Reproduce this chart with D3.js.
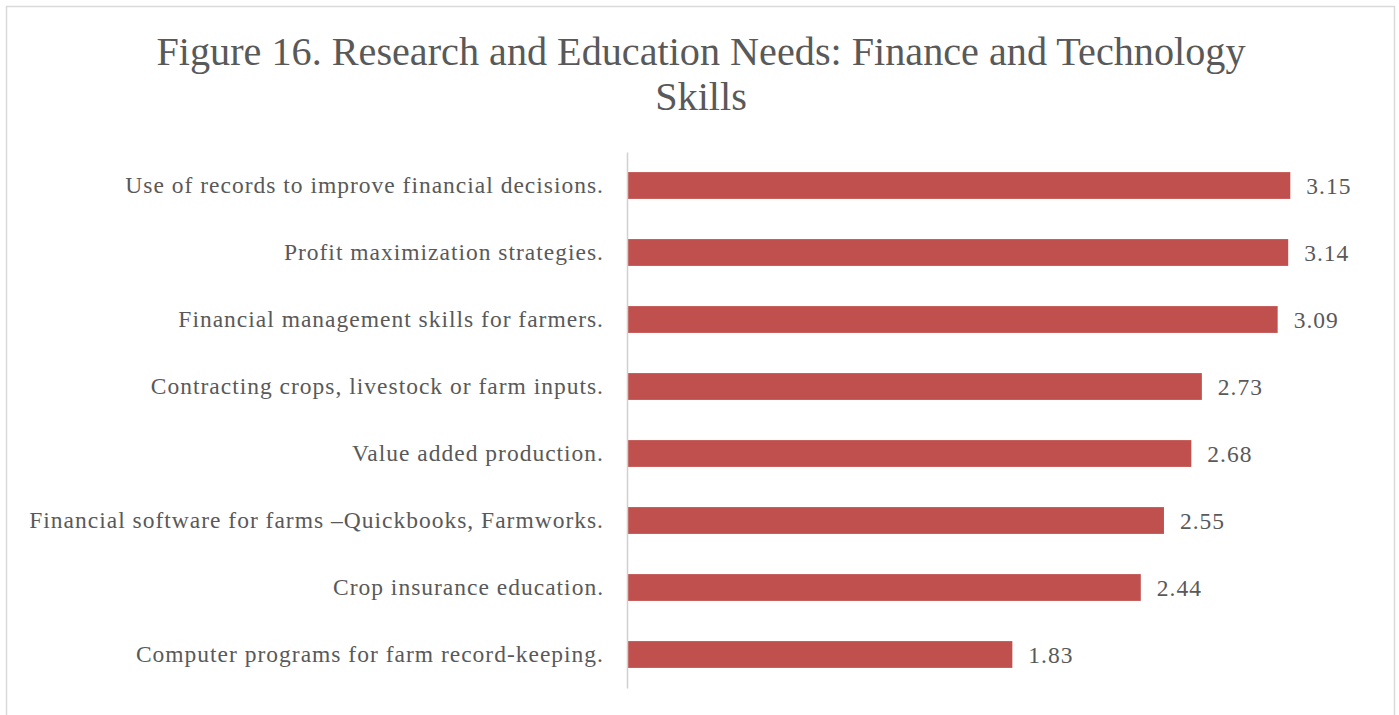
<!DOCTYPE html>
<html>
<head>
<meta charset="utf-8">
<script src="https://cdn.jsdelivr.net/npm/d3@7"></script>
<style>
body { margin: 0; background: #fff; }
text { font-family: "Liberation Serif", "DejaVu Serif", serif; fill: #595959; }
</style>
</head>
<body>
<script>
var w = 1399;
var h = 715;

var categories = [
    "Use of records to improve financial decisions.",
    "Profit maximization strategies.",
    "Financial management skills for farmers.",
    "Contracting crops, livestock or farm inputs.",
    "Value added production.",
    "Financial software for farms \u2013Quickbooks, Farmworks.",
    "Crop insurance education.",
    "Computer programs for farm record-keeping."
];
var values = [3.15, 3.14, 3.09, 2.73, 2.68, 2.55, 2.44, 1.83];

var svg = d3.select("body").append("svg").attr("width", w).attr("height", h);

// chart border
svg.append("rect")
    .attr("x", 6.5).attr("y", 6.5)
    .attr("width", 1388).attr("height", 720)
    .attr("fill", "none")
    .attr("stroke", "#d9d9d9")
    .attr("stroke-width", 1.5);

var title = svg.append("text")
    .attr("text-anchor", "middle")
    .style("font-size", "40.2px");
title.append("tspan").attr("x", 701).attr("y", 65)
    .text("Figure 16. Research and Education Needs: Finance and Technology");
title.append("tspan").attr("x", 701).attr("y", 110).text("Skills");

var plotLeft = 627, plotRight = 1364, plotTop = 152, plotBottom = 688;

var x = d3.scaleLinear().domain([0, 3.5]).range([plotLeft, plotRight]);
var y = d3.scaleBand().domain(categories).range([plotTop, plotBottom]).paddingInner(0.6).paddingOuter(0.3);

svg.selectAll("rect.bar")
    .data(values)
    .enter()
    .append("rect")
    .attr("class", "bar")
    .attr("x", x(0))
    .attr("y", function (d, i) { return y(categories[i]); })
    .attr("width", function (d) { return x(d) - x(0); })
    .attr("height", y.bandwidth())
    .attr("fill", "#C0504D");

svg.selectAll("text.val")
    .data(values)
    .enter()
    .append("text")
    .attr("class", "val")
    .attr("x", function (d) { return x(d) + 16; })
    .attr("y", function (d, i) { return y(categories[i]) + y.bandwidth() / 2; })
    .attr("dy", "0.35em")
    .style("font-size", "23.5px")
    .style("letter-spacing", "1px")
    .text(function (d) { return d.toFixed(2); });

var yAxis = svg.append("g")
    .attr("transform", "translate(" + plotLeft + ",0)")
    .call(d3.axisLeft(y).tickSize(0).tickPadding(23));
yAxis.select(".domain").attr("stroke", "#d0d0d0").attr("stroke-width", 1.5);
yAxis.selectAll("text")
    .style("font-size", "23.5px")
    .style("letter-spacing", "1px")
    .style("font-family", "'Liberation Serif', serif")
    .attr("fill", "#595959");
</script>
</body>
</html>
